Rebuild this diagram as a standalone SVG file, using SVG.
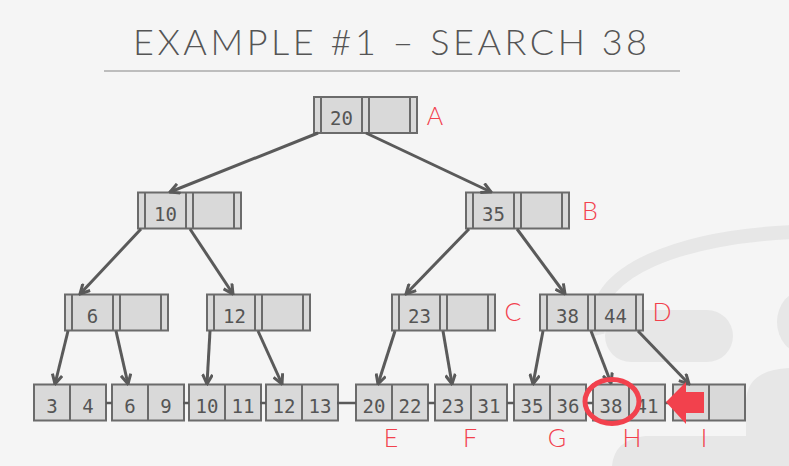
<svg xmlns="http://www.w3.org/2000/svg" width="789" height="466" viewBox="0 0 789 466">
<defs>
<style>
.bg{fill:#f5f5f5}
.logo{fill:none;stroke:#e7e7e7}
.logof{fill:#e7e7e7}
.title{font-family:Lato,"Open Sans","Liberation Sans",sans-serif;font-weight:300;font-size:36px;fill:#555}
.box{fill:#d9d9d9;stroke:#6b6b6b;stroke-width:2}
.div{stroke:#6b6b6b;stroke-width:2}
.key{font-family:"DejaVu Sans Mono","Liberation Mono",monospace;font-size:19px;fill:#555;text-anchor:middle}
.lbl{font-family:Lato,"Open Sans","Liberation Sans",sans-serif;font-weight:300;font-size:25px;fill:#f2414d;text-anchor:middle}
.edge{stroke:#5a5a5a;stroke-width:3;fill:none}
.link{stroke:#5a5a5a;stroke-width:2.5}
.red{fill:#f2414d}
</style>
<marker id="ah" viewBox="0 0 12 12" refX="10.5" refY="6" markerWidth="12" markerHeight="12" markerUnits="userSpaceOnUse" orient="auto">
<path d="M1,1 L10.5,6 L1,11" fill="none" stroke="#5a5a5a" stroke-width="3" stroke-linejoin="miter"/>
</marker>
<g id="inner">
<rect class="box" x="0" y="0" width="103" height="36"/>
<line class="div" x1="7" y1="0" x2="7" y2="36"/>
<line class="div" x1="48" y1="0" x2="48" y2="36"/>
<line class="div" x1="55" y1="0" x2="55" y2="36"/>
<line class="div" x1="96" y1="0" x2="96" y2="36"/>
</g>
<g id="leaf">
<rect class="box" x="0" y="0" width="72" height="36"/>
<line class="div" x1="36" y1="0" x2="36" y2="36"/>
</g>
</defs>
<rect class="bg" x="0" y="0" width="789" height="466"/>
<g id="logo">
<path class="logo" d="M598 335 C584 268 690 236 795 232" stroke-width="14"/>
<rect class="logof" x="605" y="310" width="128" height="52" rx="26"/>
<ellipse class="logof" cx="805" cy="322" rx="28" ry="32"/>
<path class="logof" d="M789 368 Q748 370 746 400 L746 436 L645 436 Q614 440 612 466 L789 466 Z"/>
</g>
<g id="title">
<text class="title" x="133" y="55" textLength="514" lengthAdjust="spacing">EXAMPLE #1 – SEARCH 38</text>
<line x1="104" y1="71" x2="680" y2="71" stroke="#bdbdbd" stroke-width="2"/>
</g>
<g id="nodeA" transform="translate(314,97)"><use href="#inner"/><text class="key" x="27.5" y="28">20</text></g>
<g id="nodeB" transform="translate(466,192.5)"><use href="#inner"/><text class="key" x="27.5" y="28">35</text></g>
<g id="node10" transform="translate(138,192.5)"><use href="#inner"/><text class="key" x="27.5" y="28">10</text></g>
<g id="node6" transform="translate(65,294.5)"><use href="#inner"/><text class="key" x="27.5" y="28">6</text></g>
<g id="node12" transform="translate(207,294.5)"><use href="#inner"/><text class="key" x="27.5" y="28">12</text></g>
<g id="nodeC" transform="translate(392,294.5)"><use href="#inner"/><text class="key" x="27.5" y="28">23</text></g>
<g id="nodeD" transform="translate(540,294.5)"><use href="#inner"/><text class="key" x="27.5" y="28">38</text><text class="key" x="75.5" y="28">44</text></g>
<g id="leaf34" transform="translate(34,384.5)"><use href="#leaf"/><text class="key" x="18" y="28">3</text><text class="key" x="54" y="28">4</text></g>
<g id="leaf69" transform="translate(112,384.5)"><use href="#leaf"/><text class="key" x="18" y="28">6</text><text class="key" x="54" y="28">9</text></g>
<g id="leaf1011" transform="translate(189,384.5)"><use href="#leaf"/><text class="key" x="18" y="28">10</text><text class="key" x="54" y="28">11</text></g>
<g id="leaf1213" transform="translate(266,384.5)"><use href="#leaf"/><text class="key" x="18" y="28">12</text><text class="key" x="54" y="28">13</text></g>
<g id="leafE" transform="translate(356,384.5)"><use href="#leaf"/><text class="key" x="18" y="28">20</text><text class="key" x="54" y="28">22</text></g>
<g id="leafF" transform="translate(435,384.5)"><use href="#leaf"/><text class="key" x="18" y="28">23</text><text class="key" x="54" y="28">31</text></g>
<g id="leafG" transform="translate(514,384.5)"><use href="#leaf"/><text class="key" x="18" y="28">35</text><text class="key" x="54" y="28">36</text></g>
<g id="leafH" transform="translate(593,384.5)"><use href="#leaf"/><text class="key" x="18" y="28">38</text><text class="key" x="54" y="28">41</text></g>
<g id="leafI" transform="translate(673,384.5)"><use href="#leaf"/></g>
<g id="labels">
<text class="lbl" x="435" y="125">A</text>
<text class="lbl" x="590" y="220">B</text>
<text class="lbl" x="513" y="321">C</text>
<text class="lbl" x="662" y="321">D</text>
<text class="lbl" x="391" y="447">E</text>
<text class="lbl" x="470" y="447">F</text>
<text class="lbl" x="557" y="447">G</text>
<text class="lbl" x="632" y="447">H</text>
<text class="lbl" x="704" y="447">I</text>
</g>
<g id="connectors">
<line class="edge" x1="318" y1="133" x2="170" y2="192" marker-end="url(#ah)"/>
<line class="edge" x1="366" y1="133" x2="491" y2="192" marker-end="url(#ah)"/>
<line class="edge" x1="141" y1="229" x2="80" y2="294" marker-end="url(#ah)"/>
<line class="edge" x1="190" y1="229" x2="233" y2="294" marker-end="url(#ah)"/>
<line class="edge" x1="469" y1="229" x2="406" y2="294" marker-end="url(#ah)"/>
<line class="edge" x1="517" y1="229" x2="565" y2="294" marker-end="url(#ah)"/>
<line class="edge" x1="68" y1="331" x2="55" y2="384" marker-end="url(#ah)"/>
<line class="edge" x1="116" y1="331" x2="128" y2="384" marker-end="url(#ah)"/>
<line class="edge" x1="210" y1="331" x2="207" y2="384" marker-end="url(#ah)"/>
<line class="edge" x1="258" y1="331" x2="282" y2="384" marker-end="url(#ah)"/>
<line class="edge" x1="395" y1="331" x2="378" y2="384" marker-end="url(#ah)"/>
<line class="edge" x1="443" y1="331" x2="452" y2="384" marker-end="url(#ah)"/>
<line class="edge" x1="543" y1="331" x2="533" y2="384" marker-end="url(#ah)"/>
<line class="edge" x1="591" y1="331" x2="611" y2="383" marker-end="url(#ah)"/>
<line class="edge" x1="638" y1="331" x2="689" y2="384" marker-end="url(#ah)"/>
<line class="link" x1="106" y1="403" x2="112" y2="403"/>
<line class="link" x1="183" y1="403" x2="189" y2="403"/>
<line class="link" x1="260" y1="403" x2="266" y2="403"/>
<line class="link" x1="337" y1="403" x2="356" y2="403"/>
<line class="link" x1="428" y1="403" x2="435" y2="403"/>
<line class="link" x1="507" y1="403" x2="514" y2="403"/>
<line class="link" x1="586" y1="403" x2="593" y2="403"/>
<line class="link" x1="665" y1="403" x2="673" y2="403"/>
</g>
<g id="highlight">
<ellipse cx="612" cy="401.5" rx="27" ry="22" fill="none" stroke="#f2414d" stroke-width="5"/>
<path class="red" d="M666 402 L686 382 L686 392 L704 392 L704 413 L686 413 L686 424 Z"/>
</g>
</svg>
